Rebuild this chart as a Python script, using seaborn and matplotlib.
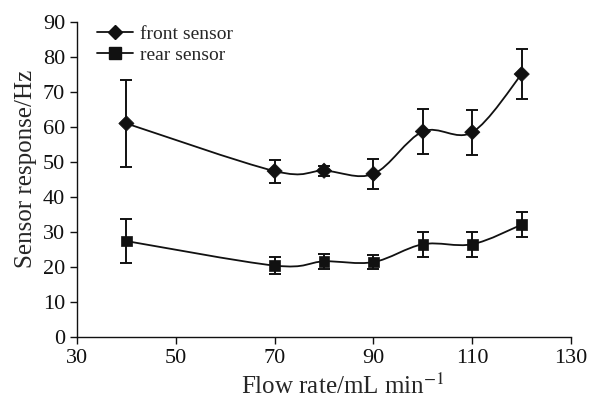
import numpy as np
import pandas as pd
import matplotlib
matplotlib.use('Agg')
import matplotlib.pyplot as plt
from matplotlib.path import Path
from matplotlib.patches import PathPatch
from matplotlib.lines import Line2D
import seaborn as sns

# data
flow = [40, 70, 80, 90, 100, 110, 120]
front = [61.0, 47.4, 47.5, 46.6, 58.7, 58.5, 75.1]
front_err = [12.3, 3.3, 1.4, 4.2, 6.4, 6.4, 7.2]
rear = [27.4, 20.4, 21.6, 21.4, 26.5, 26.5, 32.1]
rear_err = [6.2, 2.5, 2.1, 2.1, 3.6, 3.6, 3.6]

sns.set_style("ticks")
plt.rcParams['font.family'] = ['Liberation Serif', 'DejaVu Serif']
plt.rcParams['mathtext.fontset'] = 'stix'


def smooth_path(x, y):
    # Excel-like smoothed line: cubic Bezier through points
    pts = np.column_stack([x, y]).astype(float)
    verts = [pts[0]]
    codes = [Path.MOVETO]
    n = len(pts)
    for i in range(n - 1):
        p0 = pts[i - 1] if i > 0 else pts[i]
        p1 = pts[i]
        p2 = pts[i + 1]
        p3 = pts[i + 2] if i + 2 < n else pts[i + 1]
        c1 = p1 + (p2 - p0) / 6.0
        c2 = p2 - (p3 - p1) / 6.0
        verts += [c1, c2, p2]
        codes += [Path.CURVE4] * 3
    return Path(verts, codes)


fig, ax = plt.subplots(figsize=(5.9, 3.99), dpi=100)
fig.subplots_adjust(left=0.1305, right=0.968, bottom=0.1554, top=0.945)

df = pd.DataFrame({'flow': flow * 2,
                   'resp': front + rear,
                   'sensor': ['front sensor'] * 7 + ['rear sensor'] * 7})

for vals, errs in [(front, front_err), (rear, rear_err)]:
    ax.add_patch(PathPatch(smooth_path(flow, vals), facecolor='none',
                           edgecolor='#111111', lw=1.3, zorder=2))
    ax.errorbar(flow, vals, yerr=errs, fmt='none', ecolor='#111111',
                elinewidth=1.4, capsize=4.5, capthick=1.4, zorder=3)

sns.scatterplot(data=df, x='flow', y='resp', style='sensor',
                markers={'front sensor': 'D', 'rear sensor': 's'},
                s=60, color='#111111', edgecolor='#111111', linewidth=0.5,
                legend=False, ax=ax, zorder=4)

ax.set_xlim(30, 130)
ax.set_ylim(0, 90)
ax.set_xticks(range(30, 131, 20))
ax.set_yticks(range(0, 91, 10))
ax.tick_params(labelsize=16, direction='out', length=5, width=1, colors='#111111')
for s in ['left', 'bottom']:
    ax.spines[s].set_linewidth(1)
    ax.spines[s].set_color('#111111')
sns.despine(ax=ax)

ax.set_xlabel(r'Flow rate/mL min$^{-1}$', fontsize=18)
ax.set_ylabel('Sensor response/Hz', fontsize=18)
ax.xaxis.set_label_coords(0.538, -0.115)
ax.yaxis.set_label_coords(-0.08, 0.533)

handles = [Line2D([], [], color='#111111', lw=1.3, marker='D', markersize=7),
           Line2D([], [], color='#111111', lw=1.3, marker='s', markersize=8)]
ax.legend(handles, ['front sensor', 'rear sensor'], loc='upper left',
          bbox_to_anchor=(0.006, 1.046), frameon=False, fontsize=14,
          handlelength=1.85, handletextpad=0.36, labelspacing=0.2)

plt.savefig('out.png', dpi=100)
